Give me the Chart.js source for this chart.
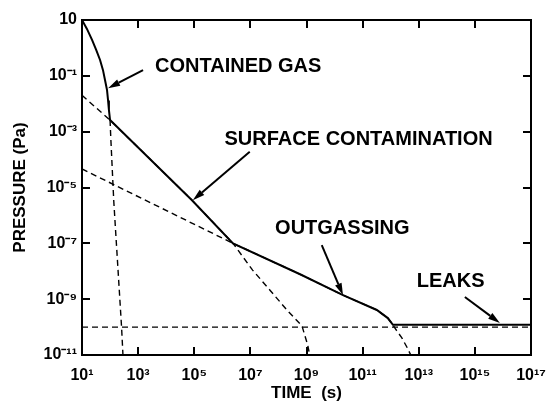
<!DOCTYPE html>
<html lang="en">
<head>
<meta charset="UTF-8">
<title>Pressure vs time</title>
<script src="https://cdn.jsdelivr.net/npm/chart.js@4.4.1/dist/chart.umd.min.js"></script>
<style>
    html, body { margin: 0; padding: 0; background: #fff; }
    .chart-container { position: relative; width: 548px; height: 405px; }
</style>
</head>
<body>

<div class="chart-container">
    <canvas id="chart"></canvas>
</div>

<script>
// time (s) / pressure (Pa)

// solid line: total pressure
var totalTime  = [10, 15, 23, 32, 44, 56, 66, 78, 85, 91, 100, 8.3e4, 2.4e6, 5.9e8, 2.0e10, 3.2e11, 7.9e11, 1.2e12, 1e17];
var totalPress = [10, 4.8, 1.9, 0.85, 0.37, 0.16, 0.071, 0.031, 0.013, 6.0e-3, 2.6e-3, 3.5e-6, 1.0e-7, 7.8e-9, 1.4e-9, 4.1e-10, 2.1e-10, 1.2e-10, 1.2e-10];

// dashed lines: the single sources
var gasTime   = [100, 107, 135, 257, 288];
var gasPress  = [2.6e-3, 5e-4, 3.5e-6, 1e-10, 1e-11];

var surfTime  = [10, 100, 8.3e4, 2.4e6, 1.2e7, 5.0e7, 2.0e8, 6.9e8, 1.1e9, 1.3e9];
var surfPress = [2.0e-2, 2.6e-3, 3.5e-6, 1.0e-7, 1.1e-8, 2.1e-9, 4.1e-10, 1.1e-10, 2.3e-11, 1e-11];

var outTime   = [10, 2.4e6, 5.9e8, 2.0e10, 3.2e11, 7.9e11, 1.2e12, 1.4e12, 2.5e12, 3.8e12, 5.2e12];
var outPress  = [4.6e-5, 1.0e-7, 7.8e-9, 1.4e-9, 4.1e-10, 2.1e-10, 1.2e-10, 9.3e-11, 4.1e-11, 1.9e-11, 1e-11];

var leakTime  = [10, 1e17];
var leakPress = [1.0e-10, 1.0e-10];

// ticks
var xTicks = [1e1, 1e3, 1e5, 1e7, 1e9, 1e11, 1e13, 1e15, 1e17];
var xTickLabels = ['10¹', '10³', '10⁵', '10⁷', '10⁹', '10¹¹', '10¹³', '10¹⁵', '10¹⁷'];
var yTicks = [1e1, 1e-1, 1e-3, 1e-5, 1e-7, 1e-9, 1e-11];
var yTickLabels = ['10', '10⁻¹', '10⁻³', '10⁻⁵', '10⁻⁷', '10⁻⁹', '10⁻¹¹'];

// labels with arrows, in data units: text start, arrow tail, arrow tip
var notes = [
    {text: 'CONTAINED GAS',         at: [4.0e3, 0.22],   from: [1.5e3, 0.16],   to: [85, 0.036]},
    {text: 'SURFACE CONTAMINATION', at: [1.2e6, 5.2e-4], from: [9.5e6, 1.9e-4], to: [8.9e4, 3.5e-6]},
    {text: 'OUTGASSING',            at: [7.6e7, 3.5e-7], from: [3.5e9, 8.7e-8], to: [2.0e10, 1.4e-9]},
    {text: 'LEAKS',                 at: [8.5e12, 4.2e-9], from: [4.4e14, 1.2e-9], to: [7.8e15, 1.4e-10]}
];

var FONT = '"Liberation Sans", Arial, sans-serif';

function points(xs, ys) {
    return xs.map(function(x, i) { return {x: x, y: ys[i]}; });
}

function solid(xs, ys) {
    return {data: points(xs, ys), borderColor: '#000', borderWidth: 2, pointRadius: 0, tension: 0};
}

function dashed(xs, ys) {
    return {data: points(xs, ys), borderColor: '#000', borderWidth: 1.4, borderDash: [6, 4], pointRadius: 0, tension: 0};
}

function fixTicks(values) {
    return function(scale) {
        scale.ticks = values.map(function(v) { return {value: v}; });
    };
}

// keep the plot area where it is in the figure, labels may hang over
function fixSize(w, h) {
    return function(s) {
        if (w) s.width = w;
        if (h) s.height = h;
        s.paddingLeft = s.paddingRight = s.paddingTop = s.paddingBottom = 0;
    };
}

// box round the plot with inward ticks on all four sides
var framePlugin = {
    id: 'frame',
    afterDatasetsDraw: function(chart) {
        var a = chart.chartArea, ctx = chart.ctx, xs = chart.scales.x, ys = chart.scales.y, t = 8;
        ctx.save();
        ctx.strokeStyle = '#000';
        ctx.lineWidth = 2;
        ctx.strokeRect(a.left, a.top, a.right - a.left, a.bottom - a.top);
        ctx.beginPath();
        xTicks.forEach(function(v) {
            var px = Math.round(xs.getPixelForValue(v));
            ctx.moveTo(px, a.bottom); ctx.lineTo(px, a.bottom - t);
            ctx.moveTo(px, a.top); ctx.lineTo(px, a.top + t);
        });
        yTicks.forEach(function(v) {
            var py = Math.round(ys.getPixelForValue(v));
            ctx.moveTo(a.left, py); ctx.lineTo(a.left + t, py);
            ctx.moveTo(a.right, py); ctx.lineTo(a.right - t, py);
        });
        ctx.stroke();
        ctx.restore();
    }
};

var notesPlugin = {
    id: 'notes',
    afterDatasetsDraw: function(chart) {
        var ctx = chart.ctx, xs = chart.scales.x, ys = chart.scales.y;
        ctx.save();
        ctx.fillStyle = '#000';
        ctx.strokeStyle = '#000';
        ctx.font = 'bold 20px ' + FONT;
        ctx.textBaseline = 'middle';
        ctx.textAlign = 'left';
        notes.forEach(function(n) {
            ctx.fillText(n.text, xs.getPixelForValue(n.at[0]), ys.getPixelForValue(n.at[1]));

            var x1 = xs.getPixelForValue(n.from[0]), y1 = ys.getPixelForValue(n.from[1]);
            var x2 = xs.getPixelForValue(n.to[0]), y2 = ys.getPixelForValue(n.to[1]);
            var a = Math.atan2(y2 - y1, x2 - x1), head = 12, half = 3.5;
            var bx = x2 - head * Math.cos(a), by = y2 - head * Math.sin(a);
            ctx.lineWidth = 2;
            ctx.beginPath();
            ctx.moveTo(x1, y1);
            ctx.lineTo(bx, by);
            ctx.stroke();
            ctx.beginPath();
            ctx.moveTo(x2, y2);
            ctx.lineTo(bx + half * Math.sin(a), by - half * Math.cos(a));
            ctx.lineTo(bx - half * Math.sin(a), by + half * Math.cos(a));
            ctx.closePath();
            ctx.fill();
        });
        ctx.restore();
    }
};

var noGrid = {display: false, drawTicks: false};

var ctx = document.getElementById('chart').getContext('2d');

var chart = new Chart(ctx, {
    type: 'line',
    data: {
        datasets: [
            dashed(leakTime, leakPress),
            dashed(gasTime, gasPress),
            dashed(surfTime, surfPress),
            dashed(outTime, outPress),
            solid(totalTime, totalPress)
        ]
    },
    options: {
        responsive: true,
        maintainAspectRatio: false,
        animation: false,
        layout: {padding: {top: 20, right: 17, left: 0, bottom: 0}},
        plugins: {
            legend: {display: false},
            tooltip: {enabled: false}
        },
        scales: {
            x: {
                type: 'logarithmic', position: 'bottom', min: 1e1, max: 1e17,
                afterBuildTicks: fixTicks(xTicks),
                afterFit: fixSize(0, 50),
                grid: noGrid, border: {display: false},
                ticks: {
                    autoSkip: false, maxRotation: 0, padding: 11, color: '#000',
                    font: {family: FONT, size: 16, weight: 'bold'},
                    callback: function(v) { return xTickLabels[xTicks.indexOf(v)]; }
                },
                title: {
                    display: true, text: 'TIME  (s)', color: '#000',
                    font: {family: FONT, size: 17, weight: 'bold'},
                    padding: {top: 0, bottom: 1}
                }
            },
            y: {
                type: 'logarithmic', position: 'left', min: 1e-11, max: 1e1,
                afterBuildTicks: fixTicks(yTicks),
                afterFit: fixSize(82, 0),
                grid: noGrid, border: {display: false},
                ticks: {
                    autoSkip: false, padding: 5, color: '#000',
                    font: {family: FONT, size: 16, weight: 'bold'},
                    callback: function(v) { return yTickLabels[yTicks.indexOf(v)]; }
                },
                title: {
                    display: true, text: 'PRESSURE (Pa)', color: '#000',
                    font: {family: FONT, size: 17, weight: 'bold'},
                    padding: {top: 10, bottom: 0}
                }
            }
        }
    },
    plugins: [framePlugin, notesPlugin]
});
</script>

</body>
</html>
